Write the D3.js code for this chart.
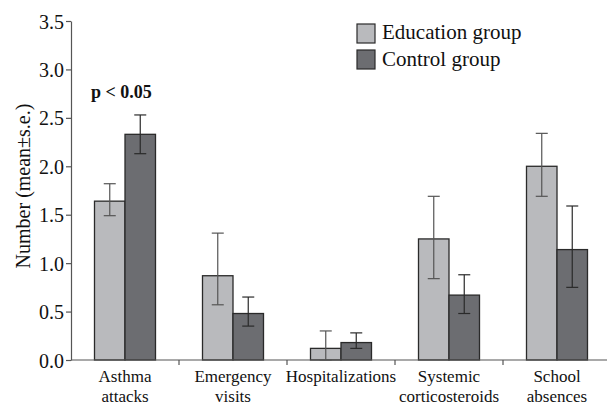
<!DOCTYPE html>
<html><head><meta charset="utf-8">
<script src="https://cdn.jsdelivr.net/npm/d3@7"></script>
<style>body{margin:0;background:#fff}svg text{font-family:"Liberation Serif","Times New Roman",serif !important}</style>
</head><body><svg id="c" width="607" height="407"></svg>
<script>
const categories = [["Asthma","attacks"],["Emergency","visits"],["Hospitalizations"],["Systemic","corticosteroids"],["School","absences"]];
const seriesNames = ["Education group","Control group"];
const eduMean = [1.64, 0.87, 0.12, 1.25, 2.00];
const eduLow  = [1.49, 0.57, 0.00, 0.84, 1.69];
const eduHigh = [1.82, 1.31, 0.30, 1.69, 2.34];
const ctlMean = [2.33, 0.48, 0.18, 0.67, 1.14];
const ctlLow  = [2.13, 0.35, 0.12, 0.48, 0.75];
const ctlHigh = [2.53, 0.65, 0.28, 0.88, 1.59];
const yTicks = [0,0.5,1.0,1.5,2.0,2.5,3.0,3.5];

const SERIF = "'Liberation Serif','Times New Roman',serif";
const svg = d3.select("#c");
const x0 = d3.scaleBand().domain(d3.range(categories.length)).range([71, 611]).paddingInner(0).paddingOuter(0);
const x1 = d3.scaleBand().domain([0,1]).range([0, 61]);
const y = d3.scaleLinear().domain([0,3.5]).range([360, 21]);
const fills = ["#b9babd","#6c6d71"];
const data = categories.map((c,i)=>[
  {s:0,m:eduMean[i],lo:eduLow[i],hi:eduHigh[i]},
  {s:1,m:ctlMean[i],lo:ctlLow[i],hi:ctlHigh[i]}]);

const g = svg.append("g");
data.forEach((d,i)=>{
  const gx = x0(i) + (x0.bandwidth()-61)/2;
  d.forEach(b=>{
    g.append("rect").attr("x", gx + x1(b.s)).attr("y", y(b.m))
      .attr("width", x1.bandwidth()).attr("height", y(0)-y(b.m))
      .attr("fill", fills[b.s]).attr("stroke","#2a2a2a").attr("stroke-width",1.3);
    const cx = gx + x1(b.s) + x1.bandwidth()/2;
    const col = b.s===0 ? "#555" : "#2a2a2a";
    g.append("line").attr("x1",cx).attr("x2",cx).attr("y1",y(b.lo)).attr("y2",y(b.hi)).attr("stroke",col).attr("stroke-width",1.2);
    [b.lo,b.hi].forEach(v=>g.append("line").attr("x1",cx-6).attr("x2",cx+6).attr("y1",y(v)).attr("y2",y(v)).attr("stroke",col).attr("stroke-width",1.2));
  });
});

// y axis
const ya = svg.append("g").attr("transform","translate(71,0)")
  .call(d3.axisLeft(y).tickValues(yTicks).tickFormat(d3.format(".1f")).tickSize(5).tickSizeOuter(0));
ya.attr("font-family", SERIF);
ya.select(".domain").attr("stroke","#555").attr("stroke-width",1.2);
ya.selectAll(".tick line").attr("stroke","#555").attr("stroke-width",1.2);
ya.selectAll(".tick text").attr("font-size",20).attr("fill","#111").attr("x",-7).attr("dy","0.35em").style("font-family",SERIF);

// x axis
const xa = svg.append("g").attr("transform","translate(0,360)");
xa.append("line").attr("x1",71).attr("x2",611).attr("y1",0).attr("y2",0).attr("stroke","#555").attr("stroke-width",1.2);
d3.range(1,categories.length).forEach(i=>xa.append("line").attr("x1",x0(i)).attr("x2",x0(i)).attr("y1",0).attr("y2",5).attr("stroke","#555").attr("stroke-width",1.2));
categories.forEach((c,i)=>{
  const t = xa.append("text").attr("x", x0(i)+x0.bandwidth()/2).attr("y", 22).attr("text-anchor","middle").attr("font-size",17).attr("fill","#111").style("font-family",SERIF);
  c.forEach((line,j)=>t.append("tspan").attr("x",x0(i)+x0.bandwidth()/2).attr("dy", j===0?0:20).text(line));
});

// y label
svg.append("text").attr("transform","translate(30,186) rotate(-90)").attr("text-anchor","middle")
  .attr("font-size",20).attr("fill","#111").style("font-family",SERIF).text("Number (mean\u00B1s.e.)");

// annotation
svg.append("text").attr("x",91).attr("y",98).attr("font-size",18).attr("font-weight","bold").attr("fill","#111").style("font-family",SERIF).text("p < 0.05");

// legend
seriesNames.forEach((n,i)=>{
  svg.append("rect").attr("x",357).attr("y",24+i*26).attr("width",18).attr("height",19)
    .attr("fill",fills[i]).attr("stroke","#2a2a2a").attr("stroke-width",1.2);
  svg.append("text").attr("x",382).attr("y",39+i*27).attr("font-size",21).attr("fill","#111").style("font-family",SERIF).text(n);
});
</script></body></html>
